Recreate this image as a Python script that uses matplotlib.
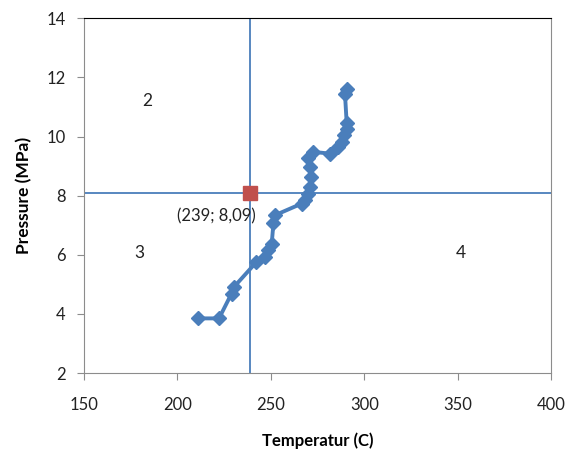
import matplotlib
matplotlib.use("Agg")
import matplotlib.pyplot as plt

# data
temp = [211.2, 222.3, 229.0, 230.4, 242.1, 246.9, 248.7, 250.5, 251.4, 252.3,
        266.5, 268.3, 270.1, 271.0, 271.5, 271.0, 270.1, 272.8, 281.7, 286.2,
        288.0, 289.3, 290.6, 290.6, 289.7, 290.6]
pressure = [3.85, 3.85, 4.69, 4.92, 5.74, 5.93, 6.16, 6.38, 7.06, 7.34,
            7.73, 7.85, 8.07, 8.30, 8.64, 8.97, 9.26, 9.48, 9.42, 9.65,
            9.82, 10.04, 10.27, 10.46, 11.43, 11.59]

crit_t = 239
crit_p = 8.09
crit_label = "(239; 8,09)"

region_labels = ["2", "3", "4"]
region_pos = [(184, 11.2), (179.5, 6.07), (351.8, 6.07)]

blue = "#4a7ebb"
red = "#c0504d"
font = "Lato"

fig = plt.figure(figsize=(5.67, 4.55), dpi=100)
ax = fig.add_axes([0.148, 0.180, 0.824, 0.780])

ax.axvline(crit_t, color=blue, lw=1.3, zorder=1)
ax.axhline(crit_p, color=blue, lw=1.3, zorder=1)

ax.plot(temp, pressure, color=blue, lw=2.8, marker="D", markersize=7.5,
        markerfacecolor=blue, markeredgecolor=blue, zorder=3)
ax.plot([crit_t], [crit_p], marker="s", markersize=10, color=red,
        markeredgecolor=red, linestyle="none", zorder=4)

ax.text(221, 7.3, crit_label, ha="center", va="center", fontsize=12,
        family=font, color="#222222")
for lab, (x, y) in zip(region_labels, region_pos):
    ax.text(x, y, lab, ha="center", va="center", fontsize=12.5, family=font,
            color="#222222")

ax.set_xlim(150, 400)
ax.set_ylim(2, 14)
ax.set_xticks([150, 200, 250, 300, 350, 400])
ax.set_yticks([2, 4, 6, 8, 10, 12, 14])

for s in ["left", "bottom", "right"]:
    ax.spines[s].set_color("#8c8c8c")
ax.spines["top"].set_color("#000000")
ax.tick_params(direction="out", color="#8c8c8c", length=5, labelsize=12,
               labelcolor="#222222")
ax.tick_params(axis="x", pad=12)
ax.tick_params(axis="y", pad=8)
for t in ax.get_xticklabels() + ax.get_yticklabels():
    t.set_family(font)

ax.set_xlabel("Temperatur (C)", fontsize=12, fontweight="bold", family=font,
              labelpad=14)
ax.set_ylabel("Pressure (MPa)", fontsize=12.5, fontweight="bold", family=font,
              labelpad=10)

fig.savefig("out.png", dpi=100)
